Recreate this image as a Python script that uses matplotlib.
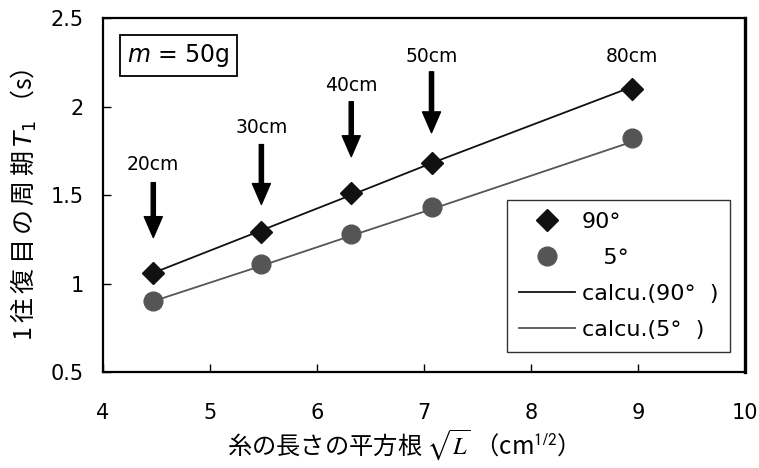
import matplotlib
matplotlib.use("Agg")
import matplotlib.pyplot as plt

plt.rcParams['font.family'] = ['DejaVu Sans', 'Noto Sans CJK JP']
plt.rcParams['mathtext.fontset'] = 'dejavusans'

# data
lengths = ["20cm", "30cm", "40cm", "50cm", "80cm"]
sqrt_L = [4.47, 5.48, 6.32, 7.07, 8.94]
meas_90 = [1.06, 1.29, 1.51, 1.68, 2.10]
meas_5 = [0.90, 1.11, 1.28, 1.43, 1.82]
calc_90 = [1.06, 1.30, 1.50, 1.68, 2.11]
calc_5 = [0.90, 1.10, 1.27, 1.42, 1.80]
xticks = [4, 5, 6, 7, 8, 9, 10]
yticks = [0.5, 1, 1.5, 2, 2.5]
ytick_labels = ["0.5", "1", "1.5", "2", "2.5"]

fig = plt.figure(figsize=(7.59, 4.68), dpi=100)
ax = fig.add_axes([0.1357, 0.2051, 0.8459, 0.7564])

l1, = ax.plot(sqrt_L, calc_90, color='#111111', lw=1.3, label='calcu.(90°  )', zorder=2)
l2, = ax.plot(sqrt_L, calc_5, color='#555555', lw=1.3, label='calcu.(5°  )', zorder=2)
m1, = ax.plot(sqrt_L, meas_90, ls='none', marker='D', ms=11, color='#111111', label='90°', zorder=3)
m2, = ax.plot(sqrt_L, meas_5, ls='none', marker='o', ms=13.5, color='#555555', label='   5°', zorder=3)

ax.set_xlim(4, 10)
ax.set_ylim(0.5, 2.5)
ax.set_xticks(xticks)
ax.set_yticks(yticks)
ax.set_yticklabels(ytick_labels)
ax.tick_params(axis='both', direction='in', length=6, width=1, labelsize=15)
ax.tick_params(axis='x', pad=22)
ax.tick_params(axis='y', pad=14)
for s in ['left', 'bottom', 'top']:
    ax.spines[s].set_linewidth(1.6)
ax.spines['right'].set_linewidth(2.4)

sp = '$\\hspace{0.18}$'
ylab = sp.join(['1', '往', '復', '目', 'の', '周', '期']) + sp + '$T_1$' + sp + '（s）'
ax.set_ylabel(ylab, fontsize=18, family='Noto Sans CJK JP')
ax.yaxis.set_label_coords(-0.100, 0.472)
ax.set_xlabel('糸の長さの平方根 $\\sqrt{L}$ （cm$^{\\mathsf{1/2}}$）', fontsize=17.5,
              family='Noto Sans CJK JP', math_fontfamily='stix')
ax.xaxis.set_label_coords(0.458, -0.155)

# annotations: label text y, arrow tail y, arrow tip y
text_y = [1.67, 1.88, 2.12, 2.28, 2.28]
tail_y = [1.57, 1.785, 2.027, 2.196, None]
tip_y = [1.26, 1.447, 1.717, 1.852, None]
for x, lab, ty, t0, t1 in zip(sqrt_L, lengths, text_y, tail_y, tip_y):
    ax.text(x, ty, lab, ha='center', va='center', fontsize=13.5)
    if t0 is not None:
        ax.annotate('', xy=(x, t1), xytext=(x, t0),
                    arrowprops=dict(facecolor='black', edgecolor='black', width=3,
                                    headwidth=13, headlength=15, shrink=0))

ax.text(0.117, 0.893, '$m$ = 50g', transform=ax.transAxes, ha='center', va='center',
        fontsize=17, bbox=dict(boxstyle='square,pad=0.3', fc='white', ec='black', lw=1.3))

leg = ax.legend(handles=[m1, m2, l1, l2], loc='lower right', bbox_to_anchor=(0.977, 0.056),
                fontsize=16, frameon=True, fancybox=False, edgecolor='black',
                handlelength=2.5, borderpad=0.55, labelspacing=0.72, handletextpad=0.3,
                borderaxespad=0)
leg.get_frame().set_linewidth(1.0)

fig.savefig('out.png', dpi=100)
